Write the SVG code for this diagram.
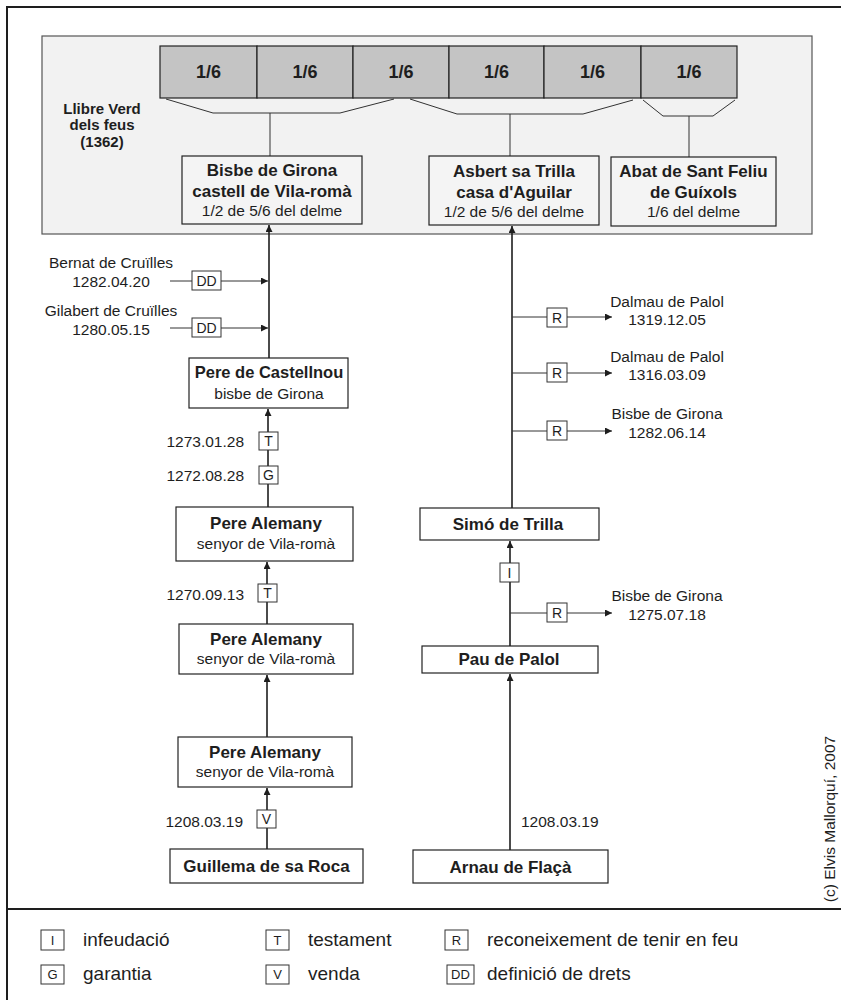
<svg xmlns="http://www.w3.org/2000/svg" width="841" height="1000" viewBox="0 0 841 1000">
<style>
text{font-family:"Liberation Sans",Arial,sans-serif;fill:#1e1e1e}
.b{font-weight:bold;font-size:17px}
.n{font-size:15.5px}
.s{font-size:15.5px}
.c{text-anchor:middle}
.r{text-anchor:end}
.node{fill:#fff;stroke:#222;stroke-width:1.2}
.tnode{fill:#f4f4f4;stroke:#222;stroke-width:1.2}
.six{fill:#c4c4c4;stroke:#222;stroke-width:1.2}
.lbl{fill:#fff;stroke:#333;stroke-width:1}
.lt{font-size:14px;text-anchor:middle}
.lg{font-size:13px;text-anchor:middle}
.leg{font-size:19px}
.v{stroke:#1e1e1e;stroke-width:1.6;fill:none}
.h{stroke:#333;stroke-width:1;fill:none}
</style>
<defs>
<marker id="ah" viewBox="0 0 10 10" refX="10" refY="5" markerWidth="8" markerHeight="7" orient="auto" markerUnits="userSpaceOnUse"><path d="M0,0 L10,5 L0,10 z" fill="#1e1e1e"/></marker>
</defs>
<rect width="841" height="1000" fill="#fff"/>
<g id="frame">
<rect x="7" y="7" width="840" height="1000" fill="none" stroke="#1e1e1e" stroke-width="2"/>
<line x1="7" y1="909" x2="841" y2="909" stroke="#1e1e1e" stroke-width="2"/>
</g>
<g id="panel">
<rect x="42" y="36" width="770" height="198" fill="#f2f2f2" stroke="#555" stroke-width="1.2"/>
<text class="b c" x="102" y="114" style="font-size:15px">Llibre Verd</text>
<text class="b c" x="102" y="130" style="font-size:15px">dels feus</text>
<text class="b c" x="102" y="147" style="font-size:15px">(1362)</text>
</g>
<g id="sixths">
<rect class="six" x="160" y="46" width="97" height="52"/>
<rect class="six" x="257" y="46" width="96" height="52"/>
<rect class="six" x="353" y="46" width="96" height="52"/>
<rect class="six" x="449" y="46" width="95" height="52"/>
<rect class="six" x="544" y="46" width="97" height="52"/>
<rect class="six" x="641" y="46" width="96" height="52"/>
<text class="b c" x="208.5" y="78" style="font-size:18px">1/6</text>
<text class="b c" x="305" y="78" style="font-size:18px">1/6</text>
<text class="b c" x="401" y="78" style="font-size:18px">1/6</text>
<text class="b c" x="496.5" y="78" style="font-size:18px">1/6</text>
<text class="b c" x="592.5" y="78" style="font-size:18px">1/6</text>
<text class="b c" x="689" y="78" style="font-size:18px">1/6</text>
</g>
<g id="connectors">
<polyline class="h" points="166,99 213,113 340,113 394,99"/>
<polyline class="h" points="410,99 457,114 583,114 633,100"/>
<polyline class="h" points="643,100 663,116 713,116 735,100"/>
<line class="h" x1="270" y1="113" x2="270" y2="156"/>
<line class="h" x1="510" y1="114" x2="510" y2="156"/>
<line class="h" x1="689" y1="116" x2="689" y2="157"/>
<!-- left column -->
<line class="v" x1="269" y1="358" x2="269" y2="225" marker-end="url(#ah)"/>
<line class="h" x1="170" y1="281" x2="268" y2="281" marker-end="url(#ah)"/>
<line class="h" x1="170" y1="328" x2="268" y2="328" marker-end="url(#ah)"/>
<line class="v" x1="268" y1="507" x2="268" y2="409" marker-end="url(#ah)"/>
<line class="v" x1="267" y1="624" x2="267" y2="562" marker-end="url(#ah)"/>
<line class="v" x1="267" y1="737" x2="267" y2="675" marker-end="url(#ah)"/>
<line class="v" x1="267" y1="849" x2="267" y2="788" marker-end="url(#ah)"/>
<!-- right column -->
<line class="v" x1="512" y1="508" x2="512" y2="226" marker-end="url(#ah)"/>
<line class="h" x1="512" y1="317" x2="612" y2="317" marker-end="url(#ah)"/>
<line class="h" x1="512" y1="373" x2="612" y2="373" marker-end="url(#ah)"/>
<line class="h" x1="512" y1="431" x2="612" y2="431" marker-end="url(#ah)"/>
<line class="v" x1="510" y1="646" x2="510" y2="541" marker-end="url(#ah)"/>
<line class="h" x1="510" y1="613" x2="612" y2="613" marker-end="url(#ah)"/>
<line class="v" x1="510" y1="850" x2="510" y2="674" marker-end="url(#ah)"/>
</g>
<g id="labels">
<rect class="lbl" x="192" y="271" width="29" height="19"/><text class="lt" x="206.5" y="286">DD</text>
<rect class="lbl" x="192" y="318" width="29" height="19"/><text class="lt" x="206.5" y="333">DD</text>
<text class="s c" x="111" y="268">Bernat de Cruïlles</text>
<text class="s c" x="111" y="287">1282.04.20</text>
<text class="s c" x="111" y="316">Gilabert de Cruïlles</text>
<text class="s c" x="111" y="335">1280.05.15</text>
<rect class="lbl" x="259" y="432" width="19" height="18"/><text class="lt" x="268.5" y="446">T</text>
<rect class="lbl" x="259" y="466" width="19" height="18"/><text class="lt" x="268.5" y="480">G</text>
<text class="s r" x="244" y="447">1273.01.28</text>
<text class="s r" x="244" y="481">1272.08.28</text>
<rect class="lbl" x="258" y="584" width="19" height="18"/><text class="lt" x="267.5" y="598">T</text>
<text class="s r" x="244" y="600">1270.09.13</text>
<rect class="lbl" x="257" y="810" width="19" height="18"/><text class="lt" x="266.5" y="824">V</text>
<text class="s r" x="243" y="827">1208.03.19</text>
<rect class="lbl" x="547" y="308" width="20" height="19"/><text class="lt" x="557" y="323">R</text>
<rect class="lbl" x="547" y="363" width="20" height="19"/><text class="lt" x="557" y="378">R</text>
<rect class="lbl" x="547" y="421" width="20" height="19"/><text class="lt" x="557" y="436">R</text>
<rect class="lbl" x="547" y="603" width="20" height="19"/><text class="lt" x="557" y="618">R</text>
<rect class="lbl" x="500" y="563" width="19" height="19"/><text class="lt" x="509.5" y="578">I</text>
<text class="s c" x="667" y="307">Dalmau de Palol</text>
<text class="s c" x="667" y="325">1319.12.05</text>
<text class="s c" x="667" y="362">Dalmau de Palol</text>
<text class="s c" x="667" y="380">1316.03.09</text>
<text class="s c" x="667" y="419">Bisbe de Girona</text>
<text class="s c" x="667" y="438">1282.06.14</text>
<text class="s c" x="667" y="601">Bisbe de Girona</text>
<text class="s c" x="667" y="620">1275.07.18</text>
<text class="s" x="521" y="827">1208.03.19</text>
</g>
<g id="n-bisbe">
<rect class="tnode" x="182" y="156" width="180" height="68"/>
<text class="b c" x="272" y="176">Bisbe de Girona</text>
<text class="b c" x="272" y="197">castell de Vila-romà</text>
<text class="n c" x="272" y="216">1/2 de 5/6 del delme</text>
</g>
<g id="n-asbert">
<rect class="tnode" x="429" y="156" width="170" height="69"/>
<text class="b c" x="514" y="177">Asbert sa Trilla</text>
<text class="b c" x="514" y="198">casa d'Aguilar</text>
<text class="n c" x="514" y="217">1/2 de 5/6 del delme</text>
</g>
<g id="n-abat">
<rect class="tnode" x="611" y="157" width="165" height="69"/>
<text class="b c" x="693.5" y="177">Abat de Sant Feliu</text>
<text class="b c" x="693.5" y="198">de Guíxols</text>
<text class="n c" x="693.5" y="217">1/6 del delme</text>
</g>
<g id="n-castellnou">
<rect class="node" x="189" y="358" width="159" height="50"/>
<text class="b c" x="269" y="378" style="font-size:16.5px">Pere de Castellnou</text>
<text class="n c" x="269" y="399">bisbe de Girona</text>
</g>
<g id="n-alemany1">
<rect class="node" x="176" y="507" width="177" height="54"/>
<text class="b c" x="266" y="529">Pere Alemany</text>
<text class="n c" x="266" y="549">senyor de Vila-romà</text>
</g>
<g id="n-alemany2">
<rect class="node" x="179" y="624" width="174" height="50"/>
<text class="b c" x="266" y="645">Pere Alemany</text>
<text class="n c" x="266" y="664">senyor de Vila-romà</text>
</g>
<g id="n-alemany3">
<rect class="node" x="178" y="737" width="174" height="50"/>
<text class="b c" x="265" y="758">Pere Alemany</text>
<text class="n c" x="265" y="777">senyor de Vila-romà</text>
</g>
<g id="n-guillema">
<rect class="node" x="170" y="849" width="193" height="34"/>
<text class="b c" x="266.5" y="872">Guillema de sa Roca</text>
</g>
<g id="n-simo">
<rect class="node" x="420" y="508" width="179" height="32"/>
<text class="b c" x="508" y="530">Simó de Trilla</text>
</g>
<g id="n-pau">
<rect class="node" x="422" y="646" width="176" height="27"/>
<text class="b c" x="509" y="665">Pau de Palol</text>
</g>
<g id="n-arnau">
<rect class="node" x="413" y="850" width="195" height="33"/>
<text class="b c" x="510.5" y="873">Arnau de Flaçà</text>
</g>
<g id="copyright">
<text class="s c" transform="translate(835,819) rotate(-90)" x="0" y="0">(c) Elvis Mallorquí, 2007</text>
</g>
<g id="legend">
<rect class="lbl" x="41" y="930" width="23" height="20"/><text class="lg" x="52.5" y="945">I</text>
<text class="leg" x="83" y="946">infeudació</text>
<rect class="lbl" x="41" y="965" width="23" height="19"/><text class="lg" x="52.5" y="979">G</text>
<text class="leg" x="83" y="980">garantia</text>
<rect class="lbl" x="266" y="930" width="23" height="20"/><text class="lg" x="277.5" y="945">T</text>
<text class="leg" x="308" y="946">testament</text>
<rect class="lbl" x="266" y="965" width="23" height="19"/><text class="lg" x="277.5" y="979">V</text>
<text class="leg" x="308" y="980">venda</text>
<rect class="lbl" x="445" y="930" width="23" height="20"/><text class="lg" x="456.5" y="945">R</text>
<text class="leg" x="487" y="946">reconeixement de tenir en feu</text>
<rect class="lbl" x="447" y="965" width="27" height="19"/><text class="lg" x="460.5" y="979">DD</text>
<text class="leg" x="487" y="980">definició de drets</text>
</g>
</svg>
